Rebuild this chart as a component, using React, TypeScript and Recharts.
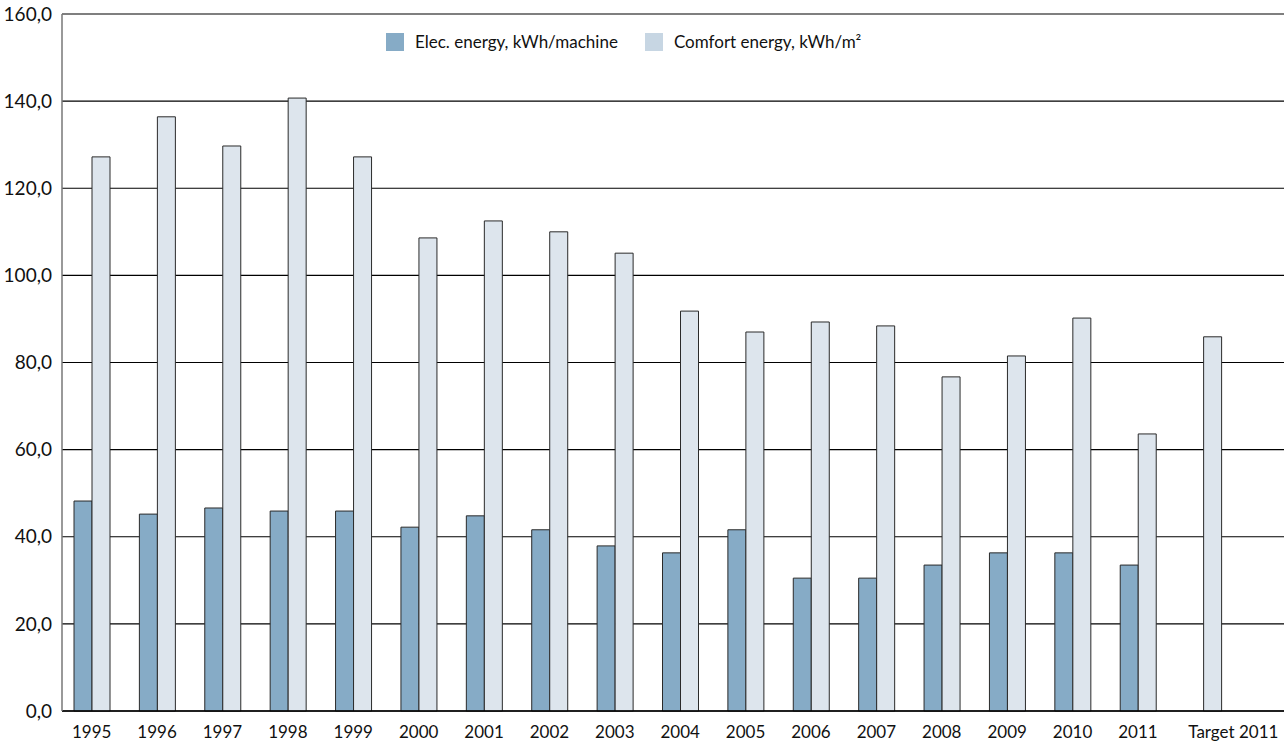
import { Bar, BarChart, CartesianGrid, Legend, XAxis, YAxis } from "recharts";

const YEARS = ["1995", "1996", "1997", "1998", "1999", "2000", "2001", "2002", "2003", "2004", "2005", "2006", "2007", "2008", "2009", "2010", "2011", "Target 2011"];
const ELEC = [48.2, 45.2, 46.6, 45.9, 45.9, 42.2, 44.8, 41.6, 37.9, 36.3, 41.6, 30.5, 30.5, 33.5, 36.3, 36.3, 33.5, null];
const COMFORT = [127.2, 136.4, 129.7, 140.7, 127.2, 108.6, 112.5, 110.0, 105.1, 91.8, 87.0, 89.3, 88.4, 76.7, 81.5, 90.2, 63.6, 85.9];
const Y_TICKS = [0, 20, 40, 60, 80, 100, 120, 140, 160];

const ELEC_NAME = "Elec. energy, kWh/machine";
const COMFORT_NAME = "Comfort energy, kWh/m²";

const data = YEARS.map((year, i) => ({ year, elec: ELEC[i], comfort: COMFORT[i] }));

const FONT = "Lato, 'Open Sans', sans-serif";

const LegendContent = () => {
  const items = [
    { name: ELEC_NAME, color: "#86abc6" },
    { name: COMFORT_NAME, color: "#c7d6e3" },
  ];
  return (
    <div style={{ display: "flex", paddingLeft: 386, fontFamily: FONT, fontSize: 17, color: "#111" }}>
      {items.map((it) => (
        <div key={it.name} style={{ display: "flex", alignItems: "center", marginRight: 27 }}>
          <span style={{ width: 18, height: 18, background: it.color, display: "inline-block", marginRight: 11 }} />
          <span>{it.name}</span>
        </div>
      ))}
    </div>
  );
};

// long last label is drawn starting at the left of its slot, as in the original
const XTick = (props: any) => {
  const { x, y, payload } = props;
  const last = payload.value === "Target 2011";
  return (
    <text
      x={x}
      y={y}
      dy={21}
      dx={last ? -15 : 0}
      textAnchor={last ? "start" : "middle"}
      fill="#111"
      fontSize={17}
      fontFamily={FONT}
    >
      {payload.value}
    </text>
  );
};

const App = () => {
  return (
    <div style={{ position: "absolute", left: 0, top: 0 }}>
      <BarChart
        width={1284}
        height={744}
        data={data}
        barGap={0}
        margin={{ top: 14, right: 0, left: 0, bottom: 0 }}
      >
        <CartesianGrid vertical={false} stroke="#000" strokeWidth={1.2} />
        <XAxis
          dataKey="year"
          height={33}
          padding={{ left: -3, right: 48 }}
          tickLine={false}
          tickSize={0}
          tickMargin={6}
          stroke="#000"
          strokeWidth={1.5}
          tick={<XTick />}
          interval={0}
        />
        <YAxis
          width={62}
          domain={[0, 160]}
          ticks={Y_TICKS}
          tickFormatter={(v: number) => v.toFixed(1).replace(".", ",")}
          tickLine={false}
          tickSize={0}
          tickMargin={10}
          stroke="#777"
          strokeWidth={1.5}
          tick={{ fill: "#111", fontSize: 19, fontFamily: FONT }}
        />
        <Legend
          verticalAlign="middle"
          content={<LegendContent />}
          wrapperStyle={{ top: 31, left: 0, width: 1284 }}
        />
        <Bar dataKey="elec" name={ELEC_NAME} fill="#86abc6" stroke="#2a2a2a" strokeWidth={1} barSize={18} isAnimationActive={false} />
        <Bar dataKey="comfort" name={COMFORT_NAME} fill="#dde5ed" stroke="#2a2a2a" strokeWidth={1} barSize={18} isAnimationActive={false} />
      </BarChart>
    </div>
  );
};

export default App;
